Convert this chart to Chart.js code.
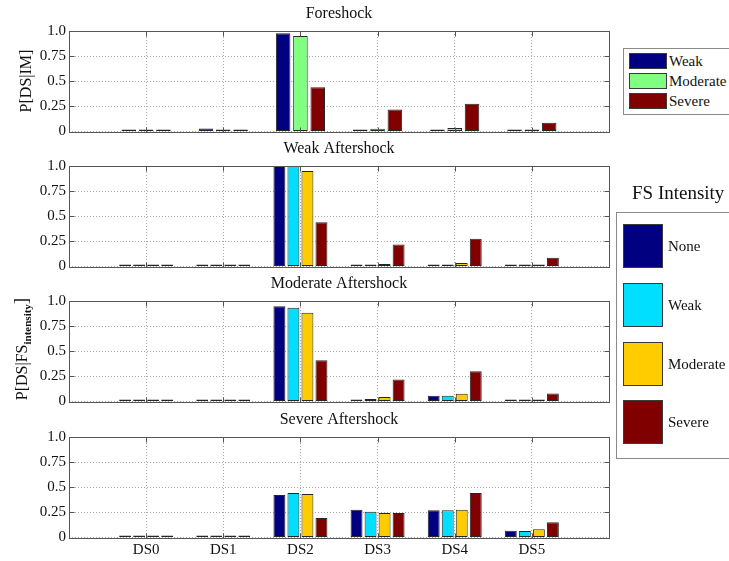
<!DOCTYPE html>
<html><head><meta charset="utf-8">
<script src="https://cdn.jsdelivr.net/npm/chart.js@4/dist/chart.umd.min.js"></script>
<style>
html,body{margin:0;padding:0;background:#fff;overflow:hidden;width:729px;height:561px;}
body{position:relative;font-family:"Liberation Serif","Times New Roman",serif;color:#111;}
canvas{position:absolute;left:0;}
.ylab{position:absolute;transform:translate(-50%,-50%) rotate(-90deg);white-space:nowrap;font-size:16px;line-height:1;}
.ylab sub{font-size:11px;font-weight:bold;vertical-align:-4px;}
.ylab .br{font-size:19px;}
.lbox{position:absolute;border:1px solid #8a8a8a;background:#fff;}
.sw{position:absolute;box-sizing:border-box;border:1.5px solid #3a3a3a;}
.lt{position:absolute;font-family:"Liberation Serif","Times New Roman",serif;font-size:15px;line-height:18px;white-space:nowrap;}
.ltitle{position:absolute;font-family:"Liberation Serif","Times New Roman",serif;font-size:19px;line-height:22px;white-space:nowrap;}
</style></head><body>
<canvas id="c0" width="729" height="145" style="top:0px"></canvas>
<canvas id="c1" width="729" height="145" style="top:135px"></canvas>
<canvas id="c2" width="729" height="145" style="top:270px"></canvas>
<canvas id="c3" width="729" height="155" style="top:406px"></canvas>

<div class="ylab" style="left:26px;top:81px">P[DS|IM]</div>
<div class="ylab" style="left:22px;top:349px">P[DS|FS<sub>intensity</sub><span class="br">]</span></div>

<div id="legend1"></div>
<div id="legend2"></div>

<script>
// ---------- data ----------
const categories = ['DS0', 'DS1', 'DS2', 'DS3', 'DS4', 'DS5'];
const yTickValues = [0, 0.25, 0.5, 0.75, 1];
const yTickLabels = ['0', '0.25', '0.5', '0.75', '1.0'];
const panelTitles = ['Foreshock', 'Weak Aftershock', 'Moderate Aftershock', 'Severe Aftershock'];

// Panel 1: foreshock, P[DS|IM]
const foreshockNames = ['Weak', 'Moderate', 'Severe'];
const foreshockWeak     = [0.002, 0.03, 0.977, 0.01, 0.004, 0.004];
const foreshockModerate = [0.002, 0.002, 0.951, 0.027, 0.034, 0.015];
const foreshockSevere   = [0.002, 0.002, 0.44, 0.22, 0.275, 0.086];

// Aftershock panels, by foreshock intensity
const fsIntensityNames = ['None', 'Weak', 'Moderate', 'Severe'];

const weakAS_None     = [0.002, 0.002, 1.0, 0.002, 0.002, 0.002];
const weakAS_Weak     = [0.002, 0.002, 1.0, 0.01, 0.002, 0.002];
const weakAS_Moderate = [0.002, 0.002, 0.951, 0.025, 0.035, 0.015];
const weakAS_Severe   = [0.002, 0.002, 0.44, 0.22, 0.275, 0.086];

const modAS_None     = [0.002, 0.002, 0.948, 0.01, 0.058, 0.002];
const modAS_Weak     = [0.002, 0.002, 0.932, 0.026, 0.058, 0.002];
const modAS_Moderate = [0.002, 0.002, 0.883, 0.045, 0.077, 0.012];
const modAS_Severe   = [0.002, 0.002, 0.41, 0.218, 0.30, 0.08];

const sevAS_None     = [0.002, 0.002, 0.423, 0.277, 0.27, 0.068];
const sevAS_Weak     = [0.002, 0.002, 0.443, 0.257, 0.27, 0.065];
const sevAS_Moderate = [0.002, 0.002, 0.433, 0.244, 0.277, 0.081];
const sevAS_Severe   = [0.002, 0.002, 0.194, 0.244, 0.443, 0.151];

// ---------- style ----------
const colors3 = ['#000080', '#80FF80', '#800000'];
const colors4 = ['#000080', '#00DFFF', '#FFCC00', '#800000'];
const FONT = '"Liberation Serif", "Times New Roman", serif';
const frameColor = '#555555';

const framePlugin = {
  id: 'frame',
  afterDraw(chart) {
    const {ctx, chartArea: a, scales: {x, y}} = chart;
    ctx.save();
    ctx.strokeStyle = frameColor;
    ctx.lineWidth = 1;
    const L = Math.round(a.left) + 0.5, R = Math.round(a.right) + 0.5;
    const T = Math.round(a.top) + 0.5, B = Math.round(a.bottom) + 0.5;
    ctx.strokeRect(L, T, R - L, B - T);
    ctx.beginPath();
    for (let i = 1; i <= categories.length; i++) {
      const px = Math.round(x.getPixelForValue(i)) + 0.5;
      ctx.moveTo(px, B); ctx.lineTo(px, B - 5);
      ctx.moveTo(px, T); ctx.lineTo(px, T + 5);
    }
    yTickValues.forEach(v => {
      const py = Math.round(y.getPixelForValue(v)) + 0.5;
      ctx.moveTo(L, py); ctx.lineTo(L + 5, py);
      ctx.moveTo(R, py); ctx.lineTo(R - 5, py);
    });
    ctx.stroke();
    ctx.restore();
  }
};

function makePanel(id, title, series, names, colors, showX) {
  const labels = [''].concat(categories, ['']);
  const n = series.length;
  const datasets = series.map((s, k) => ({
    label: names[k],
    data: [null].concat(s, [null]),
    backgroundColor: colors[k],
    borderColor: '#262626',
    borderWidth: 1,
    borderSkipped: false,
    minBarLength: 2,
    categoryPercentage: n === 3 ? 0.673 : 0.727,
    barPercentage: n === 3 ? 0.84 : 0.85
  }));
  const canvas = document.getElementById(id);
  const H = canvas.height;
  const plotH = 100.5;
  const topPad = 31 - 27.2;
  const xH = showX ? 23.5 : 0;
  const bottomPad = H - 31 - plotH - xH;
  new Chart(canvas, {
    type: 'bar',
    data: {labels, datasets},
    options: {
      responsive: false,
      animation: false,
      layout: {autoPadding: false, padding: {left: 0, right: 729 - 609, top: topPad, bottom: bottomPad}},
      plugins: {
        legend: {display: false},
        tooltip: {enabled: false},
        title: {
          display: true, text: title, fullSize: false,
          color: '#111', font: {family: FONT, size: 16, weight: 'normal'},
          padding: {top: 0, bottom: 8}
        }
      },
      scales: {
        x: {
          type: 'category', offset: false,
          afterFit: s => { s.height = xH; },
          ticks: {display: showX, autoSkip: false, maxRotation: 0, color: '#111', padding: 4,
                  font: {family: FONT, size: 15}},
          grid: {offset: false, color: '#a8a8a8', lineWidth: 1, drawTicks: false},
          border: {display: false, dash: [1, 2]}
        },
        y: {
          min: 0, max: 1,
          afterFit: s => { s.width = 69; },
          afterBuildTicks: s => { s.ticks = yTickValues.map(v => ({value: v})); },
          ticks: {
            color: '#111', padding: 3, font: {family: FONT, size: 15},
            callback: v => yTickLabels[yTickValues.indexOf(v)]
          },
          grid: {color: '#a8a8a8', lineWidth: 1, drawTicks: false},
          border: {display: false, dash: [1, 2]}
        }
      }
    },
    plugins: [framePlugin]
  });
}

makePanel('c0', panelTitles[0], [foreshockWeak, foreshockModerate, foreshockSevere], foreshockNames, colors3, false);
makePanel('c1', panelTitles[1], [weakAS_None, weakAS_Weak, weakAS_Moderate, weakAS_Severe], fsIntensityNames, colors4, false);
makePanel('c2', panelTitles[2], [modAS_None, modAS_Weak, modAS_Moderate, modAS_Severe], fsIntensityNames, colors4, false);
makePanel('c3', panelTitles[3], [sevAS_None, sevAS_Weak, sevAS_Moderate, sevAS_Severe], fsIntensityNames, colors4, true);

// ---------- legends (HTML) ----------
function buildLegend(el, names, colors, box, sw, textLeft, tops) {
  let html = `<div class="lbox" style="left:${box.l}px;top:${box.t}px;width:${box.w}px;height:${box.h}px"></div>`;
  names.forEach((nm, i) => {
    html += `<div class="sw" style="left:${sw.l}px;top:${tops[i]}px;width:${sw.w}px;height:${sw.h}px;background:${colors[i]}"></div>`;
    html += `<div class="lt" style="left:${textLeft}px;top:${tops[i] + sw.h / 2 - 9}px">${nm}</div>`;
  });
  el.innerHTML = html;
}
buildLegend(document.getElementById('legend1'), foreshockNames, colors3,
  {l: 623, t: 48, w: 130, h: 65}, {l: 629, w: 38, h: 16}, 669, [53, 73, 93]);
buildLegend(document.getElementById('legend2'), fsIntensityNames, colors4,
  {l: 616, t: 212, w: 130, h: 245}, {l: 623, w: 40, h: 44}, 668, [224, 283, 342, 400]);
document.getElementById('legend2').insertAdjacentHTML('beforeend',
  '<div class="ltitle" style="left:632px;top:182px">FS Intensity</div>');
</script>
</body></html>
